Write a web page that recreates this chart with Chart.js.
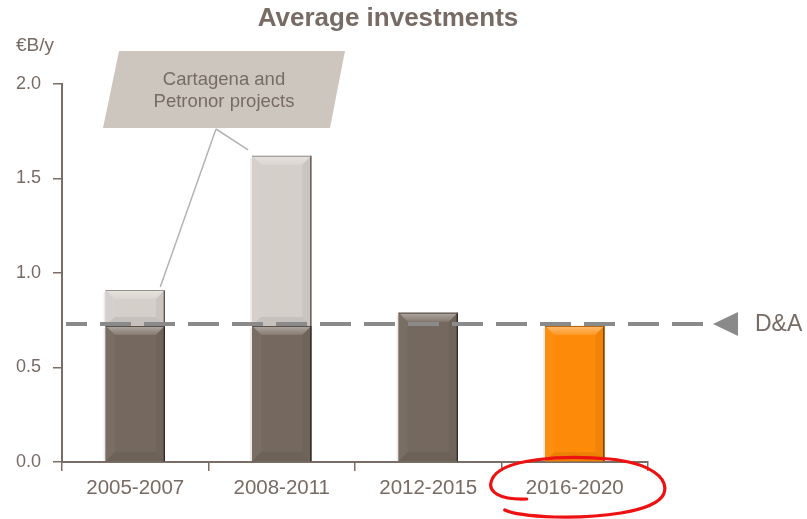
<!DOCTYPE html>
<html><head><meta charset="utf-8">
<script src="https://cdn.jsdelivr.net/npm/chart.js@4/dist/chart.umd.min.js"></script>
<style>html,body{margin:0;padding:0;background:#fff;}#wrap{width:807px;height:519px;}</style>
</head><body><div id="wrap"><canvas id="c" width="807" height="519"></canvas></div>
<script>
const categories = ['2005-2007', '2008-2011', '2012-2015', '2016-2020'];
const baseValues = [0.72, 0.72, 0.79, 0.72];
const projectValues = [0.19, 0.90, 0, 0];
const daValue = 0.73;
const yTicks = [0, 0.5, 1.0, 1.5, 2.0];
const titleText = 'Average investments';
const unitText = '€B/y';
const calloutLines = ['Cartagena and', 'Petronor projects'];
const daLabel = 'D&A';

const TXT = '#776b63';
const DARK = '#75695f', LIGHT = '#d5cfca', ORANGE = '#fd8a08';
const FONT = '"Liberation Sans", Arial, sans-serif';

function shade(hex, f) {
  const n = parseInt(hex.slice(1), 16);
  let r = n >> 16, g = (n >> 8) & 255, b = n & 255;
  const t = f < 0 ? 0 : 255, p = Math.abs(f);
  r = Math.round(r + (t - r) * p); g = Math.round(g + (t - g) * p); b = Math.round(b + (t - b) * p);
  return `rgb(${r},${g},${b})`;
}

const bevelPlugin = {
  id: 'bevel',
  afterDatasetsDraw(chart) {
    const ctx = chart.ctx;
    chart.data.datasets.forEach((ds, di) => {
      const meta = chart.getDatasetMeta(di);
      meta.data.forEach((bar, i) => {
        if (!ds.data[i]) return;
        const col = Array.isArray(ds.backgroundColor) ? ds.backgroundColor[i] : ds.backgroundColor;
        const x0 = bar.x - bar.width / 2, x1 = bar.x + bar.width / 2;
        const y0 = Math.min(bar.y, bar.base), y1 = Math.max(bar.y, bar.base);
        const b = Math.min(9, (y1 - y0) / 2);
        ctx.save();
        // top bevel
        const g = ctx.createLinearGradient(0, y0, 0, y0 + b);
        g.addColorStop(0, shade(col, 0.42)); g.addColorStop(1, shade(col, 0.12));
        ctx.fillStyle = g;
        ctx.beginPath(); ctx.moveTo(x0, y0); ctx.lineTo(x1, y0); ctx.lineTo(x1 - b, y0 + b); ctx.lineTo(x0 + b, y0 + b); ctx.closePath(); ctx.fill();
        // left bevel
        ctx.fillStyle = shade(col, 0.03);
        ctx.beginPath(); ctx.moveTo(x0, y0); ctx.lineTo(x0 + b, y0 + b); ctx.lineTo(x0 + b, y1 - b); ctx.lineTo(x0, y1); ctx.closePath(); ctx.fill();
        // right bevel
        ctx.fillStyle = shade(col, -0.05);
        ctx.beginPath(); ctx.moveTo(x1, y0); ctx.lineTo(x1 - b, y0 + b); ctx.lineTo(x1 - b, y1 - b); ctx.lineTo(x1, y1); ctx.closePath(); ctx.fill();
        // bottom bevel
        ctx.fillStyle = shade(col, -0.07);
        ctx.beginPath(); ctx.moveTo(x0, y1); ctx.lineTo(x0 + b, y1 - b); ctx.lineTo(x1 - b, y1 - b); ctx.lineTo(x1, y1); ctx.closePath(); ctx.fill();
        // edges
        ctx.strokeStyle = shade(col, -0.6); ctx.lineWidth = 1.3;
        ctx.beginPath(); ctx.moveTo(x1 - 0.6, y0); ctx.lineTo(x1 - 0.6, y1); ctx.stroke();
        ctx.strokeStyle = shade(col, -0.3); ctx.lineWidth = 1;
        ctx.beginPath(); ctx.moveTo(x0, y0 + 0.5); ctx.lineTo(x1, y0 + 0.5); ctx.stroke();
        ctx.strokeStyle = 'rgba(0,0,0,0.08)'; ctx.lineWidth = 2;
        ctx.beginPath(); ctx.moveTo(x0 - 1, y0 + 2); ctx.lineTo(x0 - 1, y1); ctx.stroke();
        ctx.restore();
      });
    });
  }
};

const annotPlugin = {
  id: 'annot',
  afterDraw(chart) {
    const ctx = chart.ctx, xs = chart.scales.x, ys = chart.scales.y, area = chart.chartArea;
    ctx.save();
    // title
    ctx.fillStyle = TXT; ctx.font = 'bold 26px ' + FONT; ctx.textAlign = 'center'; ctx.textBaseline = 'middle';
    ctx.fillText(titleText, 388, 19);
    // unit
    ctx.font = '19px ' + FONT; ctx.textAlign = 'left';
    ctx.fillText(unitText, 16, 46);
    // D&A line
    const yd = ys.getPixelForValue(daValue);
    ctx.strokeStyle = '#8a8a8a'; ctx.lineWidth = 4; ctx.setLineDash([31, 13]); ctx.lineDashOffset = 10;
    ctx.beginPath(); ctx.moveTo(area.left + 4, yd); ctx.lineTo(area.right + 60, yd); ctx.stroke();
    ctx.setLineDash([]);
    const tx = area.right + 65;
    ctx.fillStyle = '#8a8a8a';
    ctx.beginPath(); ctx.moveTo(tx, yd); ctx.lineTo(tx + 25, yd - 12); ctx.lineTo(tx + 25, yd + 12); ctx.closePath(); ctx.fill();
    ctx.fillStyle = TXT; ctx.font = '23px ' + FONT; ctx.textAlign = 'left';
    ctx.fillText(daLabel, tx + 42, yd + 1);
    // callout
    const b1 = chart.getDatasetMeta(1).data[0], b2 = chart.getDatasetMeta(1).data[1];
    const ax = 216, ay = 129;
    ctx.strokeStyle = '#b3b3b3'; ctx.lineWidth = 1.5;
    ctx.beginPath(); ctx.moveTo(ax, ay); ctx.lineTo(b1.x + 25, b1.y - 3); ctx.stroke();
    ctx.beginPath(); ctx.moveTo(ax, ay); ctx.lineTo(b2.x - b2.width / 2 - 4, b2.y - 6); ctx.stroke();
    ctx.fillStyle = '#cdc6bf';
    ctx.beginPath(); ctx.moveTo(119, 51); ctx.lineTo(345, 51); ctx.lineTo(330, 128); ctx.lineTo(103, 128); ctx.closePath(); ctx.fill();
    ctx.fillStyle = TXT; ctx.font = '18.5px ' + FONT; ctx.textAlign = 'center';
    ctx.fillText(calloutLines[0], 224, 80);
    ctx.fillText(calloutLines[1], 224, 102);
    // red ellipse around last category label
    const cx = xs.getPixelForValue(3), cy = 488;
    ctx.strokeStyle = '#ee1111'; ctx.lineWidth = 3.2; ctx.lineCap = 'round';
    ctx.beginPath();
    ctx.moveTo(cx - 48, cy + 11);
    ctx.bezierCurveTo(cx - 75, cy + 12, cx - 88, cy + 4, cx - 83, cy - 8);
    ctx.bezierCurveTo(cx - 75, cy - 30, cx - 10, cy - 33, cx + 35, cy - 29);
    ctx.bezierCurveTo(cx + 75, cy - 25, cx + 95, cy - 10, cx + 89, cy + 6);
    ctx.bezierCurveTo(cx + 80, cy + 25, cx + 20, cy + 30, cx - 20, cy + 29);
    ctx.bezierCurveTo(cx - 45, cy + 28, cx - 62, cy + 26, cx - 70, cy + 22);
    ctx.stroke();
    ctx.restore();
  }
};

new Chart(document.getElementById('c'), {
  type: 'bar',
  data: {
    labels: categories,
    datasets: [
      { label: 'Base', data: baseValues, backgroundColor: [DARK, DARK, DARK, ORANGE], borderWidth: 0 },
      { label: 'Projects', data: projectValues, backgroundColor: LIGHT, borderWidth: 0 }
    ]
  },
  options: {
    responsive: false,
    animation: false,
    layout: { padding: { top: 84, right: 159, bottom: 0, left: 0 } },
    plugins: { legend: { display: false }, tooltip: { enabled: false }, title: { display: false } },
    datasets: { bar: { categoryPercentage: 1, barPercentage: 0.405 } },
    scales: {
      x: {
        stacked: true,
        afterFit: s => { s.height = 57; },
        grid: { display: true, drawOnChartArea: false, drawTicks: true, tickLength: 9, color: '#7a6d65', lineWidth: 1.5, offset: true },
        border: { color: '#7a6d65', width: 2 },
        ticks: { color: TXT, font: { family: FONT, size: 20.5 }, padding: 5 }
      },
      y: {
        stacked: true, min: 0, max: 2,
        afterFit: s => { s.width = 62; },
        afterBuildTicks: s => { s.ticks = yTicks.map(v => ({ value: v })); },
        grid: { display: true, drawOnChartArea: false, drawTicks: true, tickLength: 9, color: '#7a6d65', lineWidth: 1.5 },
        border: { color: '#7a6d65', width: 2 },
        ticks: { color: TXT, font: { family: FONT, size: 18 }, padding: 12, callback: v => Number(v).toFixed(1) }
      }
    }
  },
  plugins: [bevelPlugin, annotPlugin]
});
</script>
</body></html>
